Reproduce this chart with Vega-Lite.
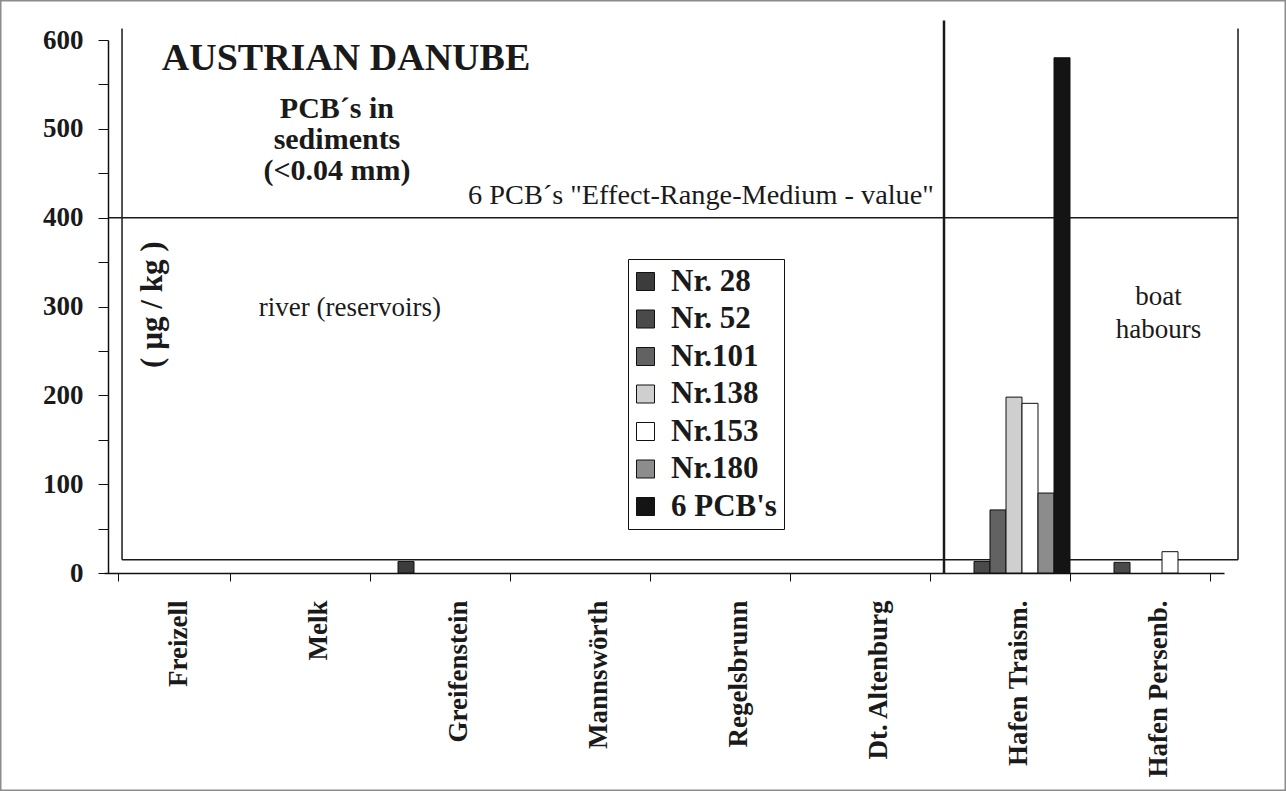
{
  "$schema": "https://vega.github.io/schema/vega-lite/v6.json",
  "width": 1286,
  "height": 791,
  "padding": 0,
  "autosize": {"type": "none"},
  "background": "white",
  "config": {
    "view": {"stroke": "#8c8c8c", "strokeWidth": 3},
    "font": "Liberation Serif",
    "text": {"font": "Liberation Serif", "color": "#1a1a1a"}
  },
  "datasets": {
    "bars": [
      {"site": "Greifenstein", "congener": "Nr. 28", "value": 13},
      {"site": "Hafen Traism.", "congener": "Nr. 52", "value": 13},
      {"site": "Hafen Traism.", "congener": "Nr.101", "value": 71},
      {"site": "Hafen Traism.", "congener": "Nr.138", "value": 198},
      {"site": "Hafen Traism.", "congener": "Nr.153", "value": 191},
      {"site": "Hafen Traism.", "congener": "Nr.180", "value": 90},
      {"site": "Hafen Traism.", "congener": "6 PCB's", "value": 580},
      {"site": "Hafen Persenb.", "congener": "Nr. 52", "value": 12},
      {"site": "Hafen Persenb.", "congener": "Nr.153", "value": 24}
    ],
    "limit": [
      {"limit": 400, "note": "6 PCB´s \"Effect-Range-Medium - value\""}
    ],
    "frame": [
      {"floor": 15, "top": 613, "divTop": 622, "base": 0}
    ]
  },
  "layer": [
    {
      "data": {"name": "frame"},
      "mark": {"type": "rule", "color": "#1a1a1a", "strokeWidth": 1.5},
      "encoding": {
        "x": {"datum": "Freizell", "bandPosition": 0.036, "type": "nominal", "title": null,
              "scale": {"domain": ["Freizell", "Melk", "Greifenstein", "Mannswörth", "Regelsbrunn", "Dt. Altenburg", "Hafen Traism.", "Hafen Persenb."], "range": [104, 1224], "paddingInner": 0.2, "paddingOuter": 0.1}},
        "x2": {"datum": "Hafen Persenb.", "bandPosition": 1.25},
        "y": {"field": "floor", "type": "quantitative", "title": null,
              "scale": {"domain": [0, 600], "range": [573, 40], "nice": false}}
      }
    },
    {
      "data": {"name": "frame"},
      "mark": {"type": "rule", "color": "#1a1a1a", "strokeWidth": 1.5},
      "encoding": {
        "x": {"datum": "Freizell", "bandPosition": 0.036, "type": "nominal", "title": null},
        "y": {"field": "floor", "type": "quantitative", "title": null},
        "y2": {"field": "top"}
      }
    },
    {
      "data": {"name": "frame"},
      "mark": {"type": "rule", "color": "#1a1a1a", "strokeWidth": 1.5},
      "encoding": {
        "x": {"datum": "Hafen Persenb.", "bandPosition": 1.25, "type": "nominal", "title": null},
        "y": {"field": "floor", "type": "quantitative", "title": null},
        "y2": {"field": "top"}
      }
    },
    {
      "data": {"name": "limit"},
      "mark": {"type": "rule", "color": "#1a1a1a", "strokeWidth": 1.5},
      "encoding": {
        "x": {"datum": "Freizell", "bandPosition": -0.089, "type": "nominal", "title": null},
        "x2": {"datum": "Hafen Persenb.", "bandPosition": 1.25},
        "y": {"field": "limit", "type": "quantitative", "title": null}
      }
    },
    {
      "data": {"name": "limit"},
      "mark": {"type": "text", "fontSize": 28.3, "align": "center", "baseline": "alphabetic", "dy": -14},
      "encoding": {
        "x": {"datum": "Regelsbrunn", "bandPosition": 0.205, "type": "nominal", "title": null},
        "y": {"field": "limit", "type": "quantitative", "title": null},
        "text": {"field": "note"}
      }
    },
    {
      "data": {"name": "frame"},
      "mark": {"type": "rule", "color": "#1a1a1a", "strokeWidth": 2.5},
      "encoding": {
        "x": {"datum": "Hafen Traism.", "bandPosition": -0.125, "type": "nominal", "title": null},
        "y": {"field": "base", "type": "quantitative", "title": null},
        "y2": {"field": "divTop"}
      }
    },
    {
      "data": {"name": "bars"},
      "mark": {"type": "bar", "stroke": "#111111", "strokeWidth": 1},
      "encoding": {
        "x": {"field": "site", "type": "nominal", "sort": null, "title": null,
              "scale": {"domain": ["Freizell", "Melk", "Greifenstein", "Mannswörth", "Regelsbrunn", "Dt. Altenburg", "Hafen Traism.", "Hafen Persenb."], "range": [104, 1224], "paddingInner": 0.2, "paddingOuter": 0.1},
              "axis": {"title": null, "orient": "bottom", "offset": -218, "tickBand": "extent", "tickSize": 8, "tickColor": "#111111", "domainColor": "#111111", "domainWidth": 1.5, "labelAngle": 270, "labelAlign": "right", "labelBaseline": "middle", "labelPadding": 19, "labelOffset": 4, "labelFont": "Liberation Serif", "labelFontSize": 27, "labelFontWeight": "bold", "labelColor": "#1a1a1a", "labelLimit": 400, "grid": false}},
        "xOffset": {"field": "congener", "type": "nominal",
                    "scale": {"domain": ["Nr. 28", "Nr. 52", "Nr.101", "Nr.138", "Nr.153", "Nr.180", "6 PCB's"], "paddingInner": 0, "paddingOuter": 0}},
        "y": {"field": "value", "type": "quantitative", "title": null,
              "scale": {"domain": [0, 600], "range": [573, 40], "nice": false},
              "axis": {"title": null, "orient": "left", "offset": -108, "values": [0, 50, 100, 150, 200, 250, 300, 350, 400, 450, 500, 550, 600], "labelExpr": "datum.value % 100 === 0 ? datum.label : ''", "tickSize": 10, "tickColor": "#111111", "domainColor": "#111111", "domainWidth": 1.5, "labelPadding": 15, "labelFont": "Liberation Serif", "labelFontSize": 27, "labelFontWeight": "bold", "labelColor": "#1a1a1a", "grid": false}},
        "color": {"field": "congener", "type": "nominal",
                  "scale": {"domain": ["Nr. 28", "Nr. 52", "Nr.101", "Nr.138", "Nr.153", "Nr.180", "6 PCB's"], "range": ["#3c3c3c", "#4a4a4a", "#626262", "#cfcfcf", "#ffffff", "#8c8c8c", "#141414"]},
                  "legend": {"title": null, "orient": "none", "legendX": 628, "legendY": 259, "padding": 7, "fillColor": "white", "strokeColor": "#111111", "symbolType": "square", "symbolSize": 324, "symbolOffset": -5, "symbolStrokeColor": "#111111", "symbolStrokeWidth": 1, "labelFont": "Liberation Serif", "labelFontSize": 31, "labelFontWeight": "bold", "labelColor": "#1a1a1a", "labelOffset": 10, "rowPadding": 5.5, "labelLimit": 300}}
      }
    },
    {
      "data": {"values": [{"note": "AUSTRIAN DANUBE"}]},
      "mark": {"type": "text", "fontSize": 38, "fontWeight": "bold", "align": "center", "baseline": "alphabetic"},
      "encoding": {
        "x": {"datum": "Melk", "bandPosition": 0.786, "type": "nominal", "title": null},
        "y": {"datum": 566, "type": "quantitative", "title": null},
        "text": {"field": "note"}
      }
    },
    {
      "data": {"values": [{"note": "PCB´s in\nsediments\n(<0.04 mm)"}]},
      "mark": {"type": "text", "fontSize": 30, "fontWeight": "bold", "align": "center", "baseline": "alphabetic", "lineBreak": "\n", "lineHeight": 31},
      "encoding": {
        "x": {"datum": "Melk", "bandPosition": 0.705, "type": "nominal", "title": null},
        "y": {"datum": 512, "type": "quantitative", "title": null},
        "text": {"field": "note"}
      }
    },
    {
      "data": {"values": [{"note": "( µg / kg )"}]},
      "mark": {"type": "text", "fontSize": 31, "fontWeight": "bold", "align": "center", "baseline": "middle", "angle": 270},
      "encoding": {
        "x": {"datum": "Freizell", "bandPosition": 0.31, "type": "nominal", "title": null},
        "y": {"datum": 302, "type": "quantitative", "title": null},
        "text": {"field": "note"}
      }
    },
    {
      "data": {"values": [{"note": "river (reservoirs)"}]},
      "mark": {"type": "text", "fontSize": 27, "align": "center", "baseline": "alphabetic"},
      "encoding": {
        "x": {"datum": "Melk", "bandPosition": 0.82, "type": "nominal", "title": null},
        "y": {"datum": 289, "type": "quantitative", "title": null},
        "text": {"field": "note"}
      }
    },
    {
      "data": {"values": [{"note": "boat\nhabours"}]},
      "mark": {"type": "text", "fontSize": 27, "align": "center", "baseline": "alphabetic", "lineBreak": "\n", "lineHeight": 33},
      "encoding": {
        "x": {"datum": "Hafen Persenb.", "bandPosition": 0.54, "type": "nominal", "title": null},
        "y": {"datum": 302, "type": "quantitative", "title": null},
        "text": {"field": "note"}
      }
    }
  ]
}
